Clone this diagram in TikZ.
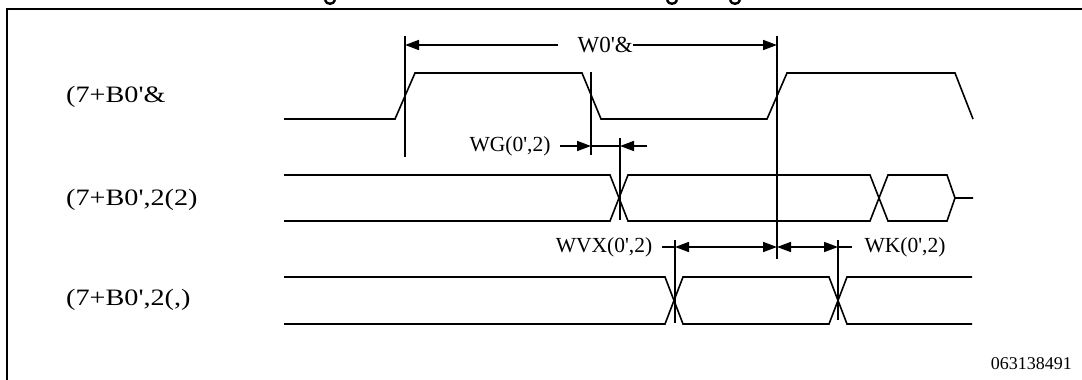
\documentclass[tikz,border=0pt]{standalone}
\usepackage{fontspec}
\setmainfont{Liberation Serif}
\newfontfamily\plainfont{Liberation Serif}
\newfontfamily\widefont[FakeStretch=1.2]{Liberation Serif}
\usetikzlibrary{arrows.meta}
\begin{document}
\begin{tikzpicture}[x=1pt,y=-1pt,
  sig/.style={line width=1.6pt, line join=miter},
  refline/.style={line width=1.8pt},
  frame/.style={line width=2.4pt},
  tipR/.style={-{Triangle[length=14pt,width=10pt]}},
  tipL/.style={{Triangle[length=14pt,width=10pt]}-},
  dimline/.style={line width=1.6pt},
  both/.style={line width=1.6pt,{Triangle[length=14pt,width=10pt]}-{Triangle[length=14pt,width=10pt]}},
  lbl/.style={font=\plainfont\fontsize{21.5}{24}\selectfont, inner sep=0pt},
  siglbl/.style={font=\widefont\fontsize{23.5}{26}\selectfont, inner sep=0pt, anchor=west},
  idlbl/.style={font=\plainfont\fontsize{18}{20}\selectfont, inner sep=0pt, anchor=east}]
\useasboundingbox (0,0) rectangle (1082,380);
% frame
\draw[frame] (7,380) -- (7,9) -- (1082,9);
% title descenders (cropped title)
\foreach \gx in {330,672,735}
  \draw[line width=2.4pt] (\gx-5,0) .. controls (\gx-4,5) and (\gx+4,5) .. (\gx+5,0);
% signal labels
\node[siglbl] (l1) at (66,97) {(7+B0'\&};
\node[siglbl] (l2) at (66,200) {(7+B0',2(2)};
\node[siglbl] (l3) at (66,300) {(7+B0',2(,)};
% signal 1
\draw[sig] (284,119) -- (395,119) -- (415,73) -- (582,73) -- (601,119) -- (767,119) -- (787,73) -- (955,73) -- (973,119);
% signal 2
\draw[sig] (284,175) -- (610,175) -- (628,221) -- (870,221) -- (888,175) -- (947,175) -- (955,198) -- (973,198);
\draw[sig] (284,221) -- (610,221) -- (628,175) -- (870,175) -- (888,221) -- (947,221) -- (955,198);
% signal 3
\draw[sig] (284,277) -- (665,277) -- (683,324) -- (829,324) -- (847,277) -- (972,277);
\draw[sig] (284,324) -- (665,324) -- (683,277) -- (829,277) -- (847,324) -- (972,324);
% reference coordinates
\coordinate (a1) at (405,36);  \coordinate (a2) at (405,157);
\coordinate (b1) at (777,36);  \coordinate (b2) at (777,259);
\coordinate (c1) at (591,72);  \coordinate (c2) at (591,155);
\coordinate (d1) at (620,138); \coordinate (d2) at (620,220);
\coordinate (e1) at (675,240); \coordinate (e2) at (675,323);
\coordinate (f1) at (838,240); \coordinate (f2) at (838,320);
\foreach \p in {a,b,c,d,e,f} \draw[refline] (\p1) -- (\p2);
% W0'& dimension
\coordinate (wl) at (405,45); \coordinate (wr) at (777,45);
\coordinate (wgl) at (558,45); \coordinate (wgr) at (633,45);
\draw[dimline,tipL] (wl) -- (wgl);
\draw[dimline,tipR] (wgr) -- (wr);
\node[lbl, font=\plainfont\fontsize{23}{25}\selectfont, anchor=east] (tcyc) at (633,45) {W0'\&};
% WG dimension
\node[lbl] (tg) at (510,146) {WG(0',2)};
\coordinate (g0) at (560,146); \coordinate (g1) at (591,146);
\coordinate (g2) at (620,146); \coordinate (g3) at (647,146);
\draw[dimline,tipR] (g0) -- (g1);
\draw[dimline] (g1) -- (g2);
\draw[dimline,tipR] (g3) -- (g2);
% WVX / WK dimensions
\node[lbl] (tsu) at (604,247) {WVX(0',2)};
\node[lbl] (th) at (905,247) {WK(0',2)};
\coordinate (s0) at (662,247); \coordinate (s1) at (675,247);
\coordinate (s2) at (777,247); \coordinate (s3) at (838,247);
\coordinate (s4) at (852,247);
\draw[dimline] (s0) -- (s1);
\draw[both] (s1) -- (s2);
\draw[both] (s2) -- (s3);
\draw[dimline] (s3) -- (s4);
% figure id
\node[idlbl] (fid) at (1072,364) {063138491};
\end{tikzpicture}
\end{document}
